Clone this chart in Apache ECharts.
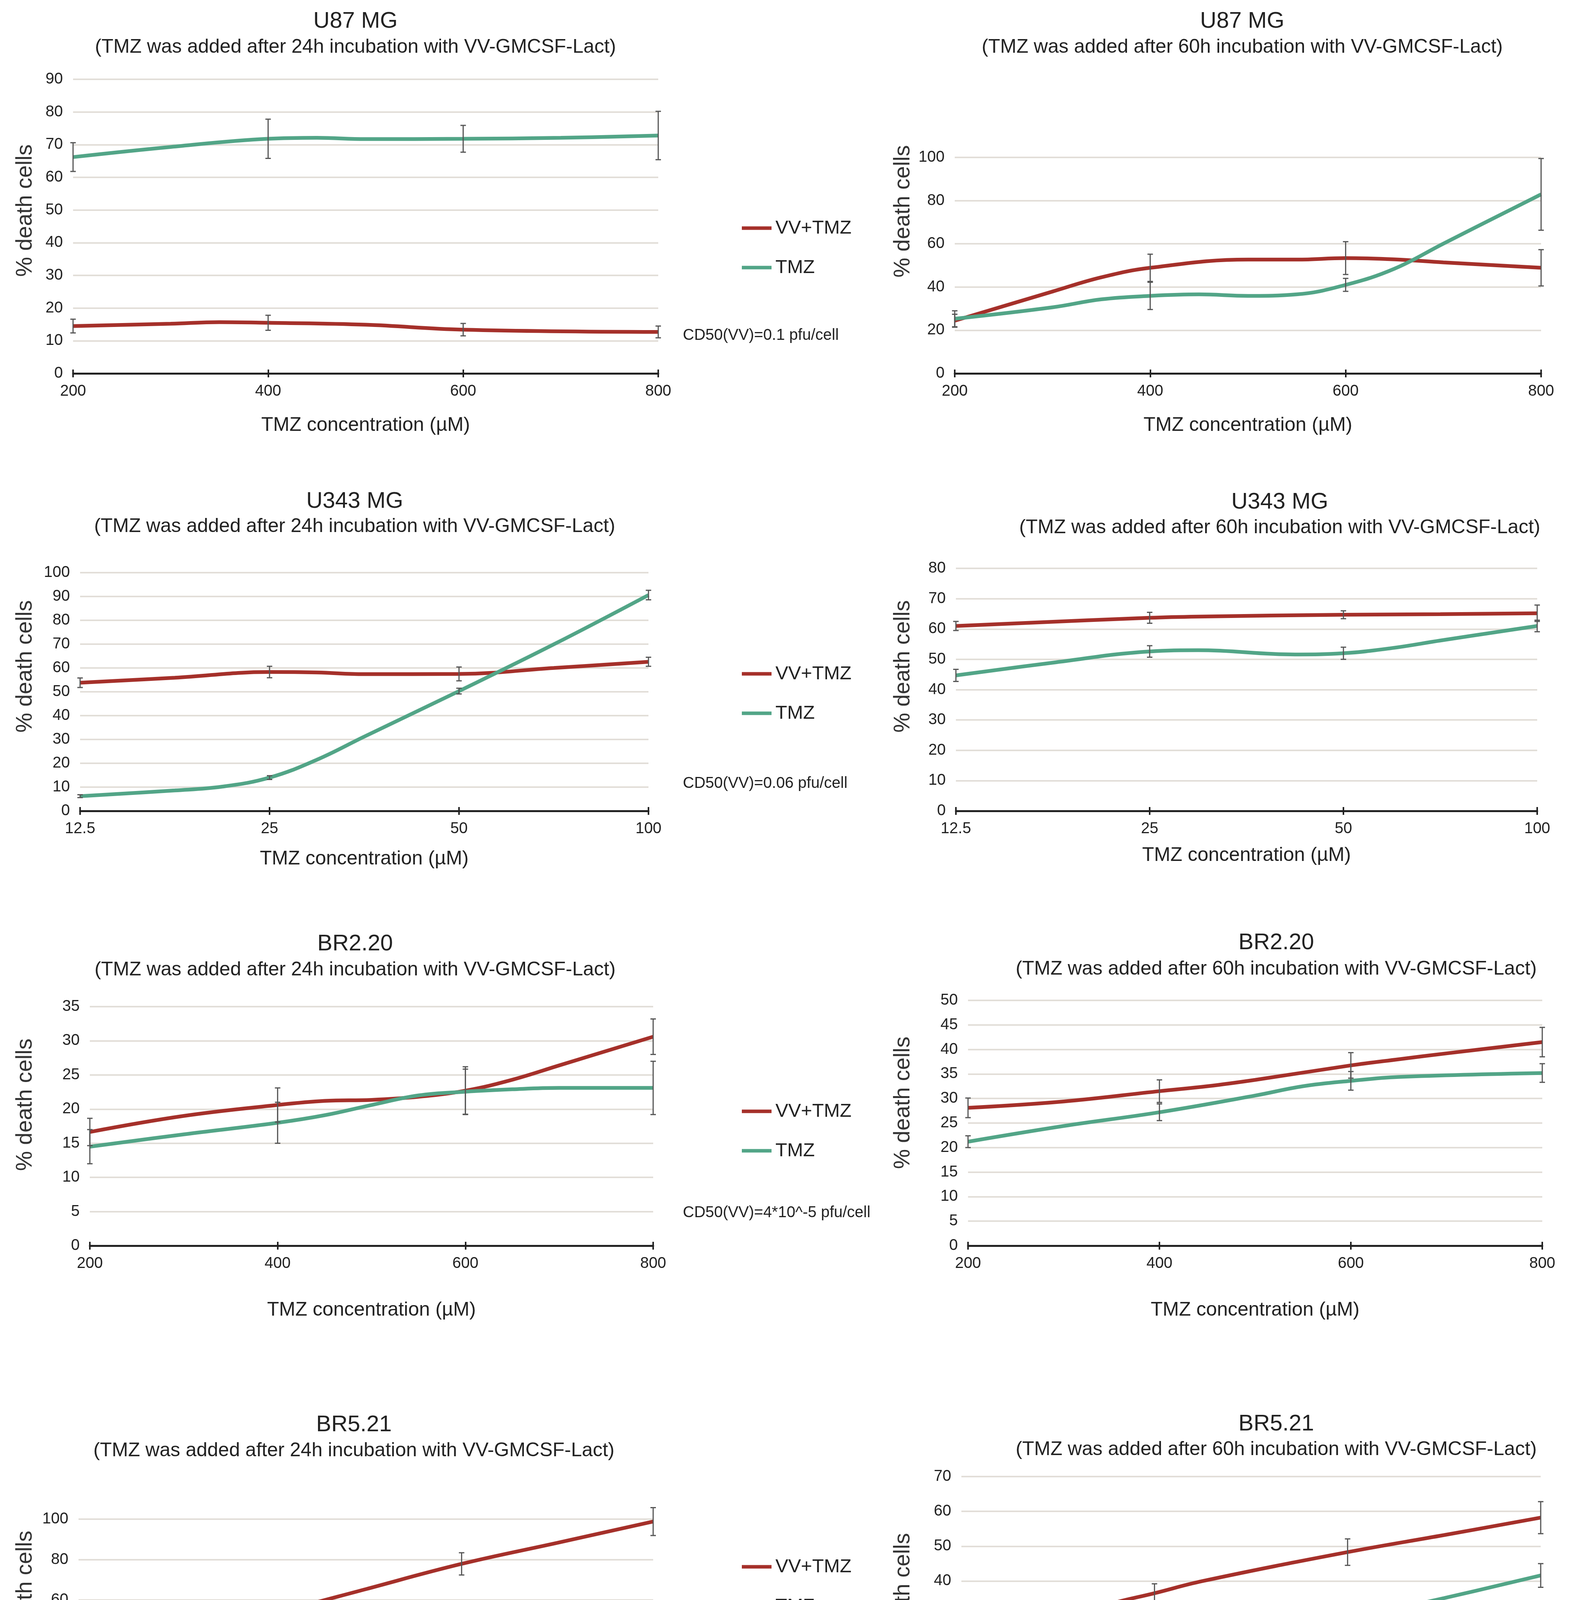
<!DOCTYPE html>
<html>
<head>
<meta charset="utf-8">
<script src="https://cdn.jsdelivr.net/npm/echarts@6/dist/echarts.min.js"></script>
<style>
html,body{margin:0;padding:0;background:#fff;}
#chart{width:4019px;height:4678px;}
</style>
</head>
<body>
<div id="chart"></div>
<script>
// ---------------- DATA ----------------
const catsU87 = ['200', '400', '600', '800'];
const catsU343 = ['12.5', '25', '50', '100'];
const catsBR220 = ['200', '400', '600', '800'];
const catsBR521 = ['75', '150', '300', '600'];

// x = category position (0..3), y = % death cells
const a1VV  = [[0,14.5],[0.5,15.2],[0.75,15.7],[1,15.5],[1.5,14.9],[2,13.4],[3,12.7]];
const a1TMZ = [[0,66.2],[0.5,69.3],[1,71.8],[1.25,72.1],[1.5,71.7],[2,71.8],[2.5,72.1],[3,72.8]];
const a1VVerr  = [2.1, 2.3, 1.9, 1.8];
const a1TMZerr = [4.4, 6.0, 4.1, 7.4];

const b1VV  = [[0,24.4],[0.5,37.9],[0.75,44.5],[1,48.9],[1.5,52.7],[1.75,52.7],[2,53.4],[2.25,52.8],[2.5,51.4],[3,48.9]];
const b1TMZ = [[0,25.3],[0.5,30.6],[0.75,34.3],[1,35.9],[1.25,36.6],[1.5,35.9],[1.75,36.6],[2,41.0],[2.25,48.5],[2.5,60.1],[3,82.9]];
const b1VVerr  = [3.0, 6.3, 7.6, 8.4];
const b1TMZerr = [3.7, 6.3, 3.0, 16.6];

const a2VV  = [[0,53.8],[0.5,55.9],[1,58.3],[1.25,58.1],[1.5,57.4],[2,57.5],[2.5,60.0],[3,62.6]];
const a2TMZ = [[0,6.2],[0.5,8.6],[0.75,10.2],[1,14.0],[1.25,21.5],[1.5,31.2],[2,50.3],[2.5,69.9],[3,90.6]];
const a2VVerr  = [2.0, 2.4, 2.9, 1.9];
const a2TMZerr = [0.6, 0.8, 1.2, 2.0];

const b2VV  = [[0,61.0],[1,63.7],[1.25,64.1],[2,64.7],[2.5,64.9],[3,65.2]];
const b2TMZ = [[0,44.7],[0.5,48.9],[1,52.6],[1.25,53.0],[1.75,51.6],[2,52.0],[2.25,53.7],[2.5,56.2],[3,61.0]];
const b2VVerr  = [1.5, 1.8, 1.3, 2.7];
const b2TMZerr = [2.0, 1.9, 2.0, 1.9];

const a3VV  = [[0,16.65],[0.5,19.0],[1,20.6],[1.25,21.2],[1.5,21.35],[1.75,21.8],[2,22.7],[2.25,24.3],[2.5,26.4],[3,30.6]];
const a3TMZ = [[0,14.5],[0.5,16.3],[1,18.0],[1.25,19.1],[1.5,20.6],[1.75,22.0],[2,22.55],[2.25,22.9],[2.5,23.1],[3,23.1]];
const a3VVerr  = [2.0, 2.5, 3.5, 2.6];
const a3TMZerr = [2.5, 3.0, 3.3, 3.9];

const b3VV  = [[0,28.1],[0.5,29.4],[1,31.5],[1.25,32.5],[1.5,33.8],[2,36.75],[2.25,38.0],[2.5,39.2],[3,41.5]];
const b3TMZ = [[0,21.2],[0.5,24.4],[1,27.2],[1.5,30.6],[1.75,32.5],[2,33.6],[2.25,34.4],[3,35.2]];
const b3VVerr  = [2.0, 2.3, 2.6, 3.0];
const b3TMZerr = [1.2, 1.7, 1.9, 1.9];

const a4VV  = [[0,25.2],[0.5,38.6],[1,52.6],[1.5,65.4],[2,77.9],[2.5,88.3],[3,98.8]];
const a4TMZ = [[0,13.2],[0.75,17.5],[1,19.8],[1.25,23.6],[1.5,27.4],[2,33.7],[2.5,36.8],[3,37.7]];
const a4VVerr  = [1.7, 3.5, 5.5, 6.9];
const a4TMZerr = [1.5, 3.5, 5.4, 6.5];

const b4VV  = [[0,19.9],[0.75,33.1],[1,36.5],[1.25,40.0],[2,48.3],[2.5,53.2],[3,58.2]];
const b4TMZ = [[0,3.7],[0.25,5.3],[0.75,10.0],[1,13.0],[1.25,16.9],[1.5,21.7],[2,29.0],[2.5,35.1],[3,41.6]];
const b4VVerr  = [1.3, 2.7, 3.8, 4.6];
const b4TMZerr = [0.5, 1.0, 2.4, 3.4];

const sub24 = '(TMZ was added after 24h incubation with VV-GMCSF-Lact)';
const sub60 = '(TMZ was added after 60h incubation with VV-GMCSF-Lact)';

// ---------------- LAYOUT ----------------
const panels = [
  {name:'U87 MG', sub:sub24, cats:catsU87, vv:a1VV, tmz:a1TMZ, vvE:a1VVerr, tmzE:a1TMZerr, yMax:90, yInt:10,
   L:187, R:1685, T:203, B:956, tX:910, tY:55, sY:121, yNX:65, yNY:539, xNG:108, legY:584, cd50:'CD50(VV)=0.1 pfu/cell', cdY:859},
  {name:'U87 MG', sub:sub60, cats:catsU87, vv:b1VV, tmz:b1TMZ, vvE:b1VVerr, tmzE:b1TMZerr, yMax:100, yInt:20,
   L:2444, R:3945, T:403, B:956, tX:3180, tY:55, sY:121, yNX:2312, yNY:541, xNG:108},
  {name:'U343 MG', sub:sub24, cats:catsU343, vv:a2VV, tmz:a2TMZ, vvE:a2VVerr, tmzE:a2TMZerr, yMax:100, yInt:10,
   L:205, R:1660, T:1466, B:2076, tX:908, tY:1284, sY:1348, yNX:65, yNY:1706, xNG:98, legY:1725, cd50:'CD50(VV)=0.06 pfu/cell', cdY:2006},
  {name:'U343 MG', sub:sub60, cats:catsU343, vv:b2VV, tmz:b2TMZ, vvE:b2VVerr, tmzE:b2TMZerr, yMax:80, yInt:10,
   L:2447, R:3935, T:1455, B:2076, tX:3276, tY:1286, sY:1351, yNX:2312, yNY:1706, xNG:89},
  {name:'BR2.20', sub:sub24, cats:catsBR220, vv:a3VV, tmz:a3TMZ, vvE:a3VVerr, tmzE:a3TMZerr, yMax:35, yInt:5,
   L:230, R:1672, T:2577, B:3189, tX:909, tY:2417, sY:2483, yNX:65, yNY:2828, xNG:140, legY:2845, cd50:'CD50(VV)=4*10^-5 pfu/cell', cdY:3105},
  {name:'BR2.20', sub:sub60, cats:catsBR220, vv:b3VV, tmz:b3TMZ, vvE:b3VVerr, tmzE:b3TMZerr, yMax:50, yInt:5,
   L:2478, R:3948, T:2561, B:3189, tX:3267, tY:2414, sY:2481, yNX:2312, yNY:2823, xNG:140},
  {name:'BR5.21', sub:sub24, cats:catsBR521, vv:a4VV, tmz:a4TMZ, vvE:a4VVerr, tmzE:a4TMZerr, yMax:100, yInt:20,
   L:201, R:1672, T:3889, B:4407, tX:906, tY:3648, sY:3714, yNX:65, yNY:4088, xNG:83, legY:4011, cd50:'CD50(VV)=0.5 pfu/cell', cdY:4313},
  {name:'BR5.21', sub:sub60, cats:catsBR521, vv:b4VV, tmz:b4TMZ, vvE:b4VVerr, tmzE:b4TMZerr, yMax:70, yInt:10,
   L:2461, R:3944, T:3780, B:4404, tX:3267, tY:3646, sY:3711, yNX:2312, yNY:4094, xNG:90}
];

const RED = '#A5302A';
const GREEN = '#52A587';
const FONT = "'Liberation Sans', Arial, Helvetica, sans-serif";
const TXT = '#222';

function meanAt(series, i) {
  for (const p of series) if (p[0] === i) return p[1];
  return null;
}
function errData(series, errs) {
  return errs.map((e, i) => { const m = meanAt(series, i); return [i, m - e, m + e]; });
}
function renderErr(params, api) {
  const x = api.value(0), lo = api.value(1), hi = api.value(2);
  const p1 = api.coord([x, lo]), p2 = api.coord([x, hi]);
  const w = 7;
  const st = {stroke:'#555', lineWidth:3};
  return {type:'group', children:[
    {type:'line', shape:{x1:p1[0], y1:p1[1], x2:p2[0], y2:p2[1]}, style:st},
    {type:'line', shape:{x1:p1[0]-w, y1:p1[1], x2:p1[0]+w, y2:p1[1]}, style:st},
    {type:'line', shape:{x1:p2[0]-w, y1:p2[1], x2:p2[0]+w, y2:p2[1]}, style:st}
  ]};
}

const grid = [], xAxis = [], yAxis = [], series = [], graphic = [], legend = [];

panels.forEach((p, i) => {
  grid.push({left:p.L, top:p.T, width:p.R - p.L, height:p.B - p.T, containLabel:false});
  xAxis.push({
    type:'value', gridIndex:i, min:0, max:3, interval:1,
    axisLine:{show:true, onZero:false, lineStyle:{color:'#222', width:5}},
    axisTick:{show:true, length:10, lineStyle:{color:'#222', width:4}},
    axisLabel:{formatter:(v)=>p.cats[v], fontSize:40, color:TXT, fontFamily:FONT, margin:26},
    splitLine:{show:false},
    name:'TMZ concentration (µM)', nameLocation:'middle', nameGap:p.xNG,
    nameTextStyle:{fontSize:50, color:TXT, fontFamily:FONT}
  });
  yAxis.push({
    type:'value', gridIndex:i, min:0, max:p.yMax, interval:p.yInt,
    axisLine:{show:false}, axisTick:{show:false},
    axisLabel:{fontSize:40, color:TXT, fontFamily:FONT, margin:26},
    splitLine:{show:true, lineStyle:{color:'#E2DED8', width:4}}
  });
  series.push({
    name:'VV+TMZ', type:'line', xAxisIndex:i, yAxisIndex:i, data:p.vv, smooth:0.4,
    symbol:'none', lineStyle:{color:RED, width:9.5}, itemStyle:{color:RED}, z:3
  });
  series.push({
    name:'TMZ', type:'line', xAxisIndex:i, yAxisIndex:i, data:p.tmz, smooth:0.4,
    symbol:'none', lineStyle:{color:GREEN, width:9.5}, itemStyle:{color:GREEN}, z:3
  });
  series.push({
    name:'errVV' + i, type:'custom', xAxisIndex:i, yAxisIndex:i, clip:false,
    data:errData(p.vv, p.vvE), renderItem:renderErr, z:5, silent:true
  });
  series.push({
    name:'errTMZ' + i, type:'custom', xAxisIndex:i, yAxisIndex:i, clip:false,
    data:errData(p.tmz, p.tmzE), renderItem:renderErr, z:5, silent:true
  });
  graphic.push({type:'text', style:{text:p.name, x:p.tX, y:p.tY, textAlign:'center', textVerticalAlign:'middle',
    fontSize:58, fontFamily:FONT, fill:TXT}});
  graphic.push({type:'text', style:{text:p.sub, x:p.tX, y:p.sY, textAlign:'center', textVerticalAlign:'middle',
    fontSize:50, fontFamily:FONT, fill:TXT}});
  graphic.push({type:'text', x:p.yNX, y:p.yNY, rotation:Math.PI/2, style:{text:'% death cells', x:0, y:0,
    textAlign:'center', textVerticalAlign:'middle', fontSize:57, fontFamily:FONT, fill:'#333'}});
  if (p.cd50) {
    graphic.push({type:'text', style:{text:p.cd50, x:1748, y:p.cdY, textAlign:'left', textVerticalAlign:'middle',
      fontSize:40, fontFamily:FONT, fill:TXT}});
    legend.push({
      data:['VV+TMZ', 'TMZ'], orient:'vertical', left:1899, top:p.legY - 25, padding:0,
      itemGap:51, itemWidth:76, itemHeight:9, icon:'rect', selectedMode:false,
      textStyle:{fontSize:49, fontFamily:FONT, color:TXT, lineHeight:50, padding:[0,0,0,5]}
    });
  }
});

// inward half of the crossing tick marks on each x axis
panels.forEach((p, i) => {
  xAxis.push({
    type:'value', gridIndex:i, min:0, max:3, interval:1, position:'bottom',
    axisLine:{show:false}, axisLabel:{show:false}, splitLine:{show:false},
    axisTick:{show:true, inside:true, length:10, lineStyle:{color:'#222', width:4}}
  });
});

graphic.push({type:'text', style:{text:'(A)', x:1026, y:4613, textAlign:'center', textVerticalAlign:'middle',
  fontSize:66, fontWeight:'bold', fontFamily:"'Liberation Serif', 'DejaVu Serif', serif", fill:'#000'}});
graphic.push({type:'text', style:{text:'(B)', x:3045, y:4613, textAlign:'center', textVerticalAlign:'middle',
  fontSize:66, fontWeight:'bold', fontFamily:"'Liberation Serif', 'DejaVu Serif', serif", fill:'#000'}});

const chart = echarts.init(document.getElementById('chart'), null, {renderer:'canvas'});
chart.setOption({
  backgroundColor:'#ffffff',
  animation:false,
  grid, xAxis, yAxis, series, legend, graphic
});
</script>
</body>
</html>
